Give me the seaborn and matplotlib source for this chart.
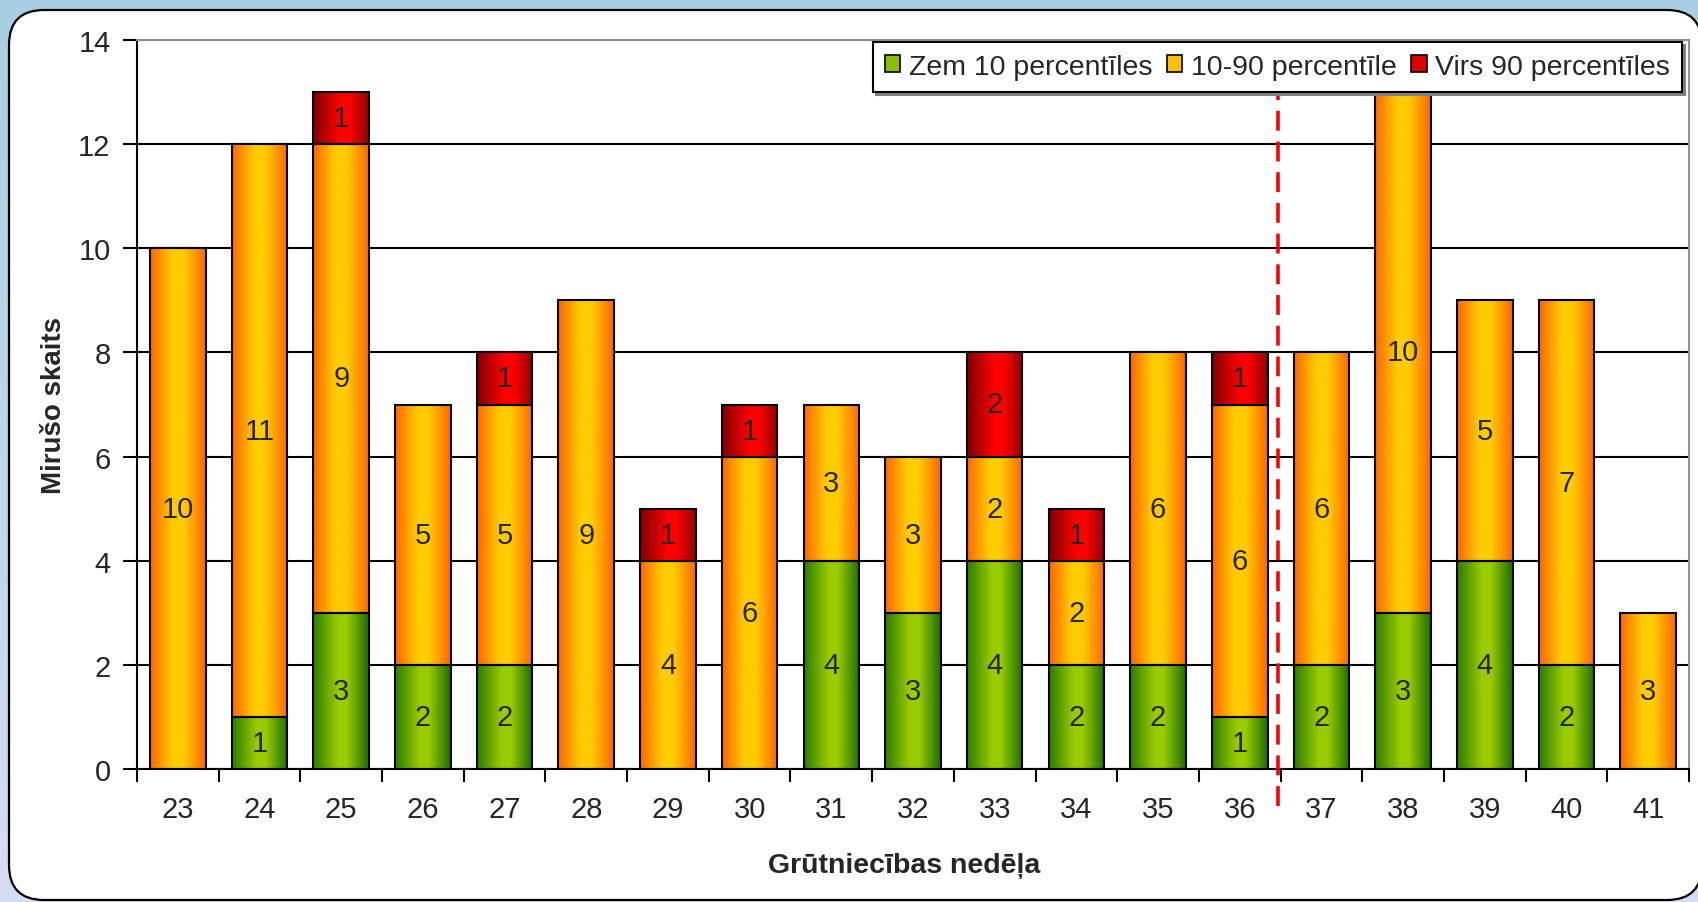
import matplotlib
matplotlib.use("Agg")
import matplotlib.pyplot as plt
import seaborn as sns
import numpy as np
from matplotlib.colors import LinearSegmentedColormap
from matplotlib.patches import FancyBboxPatch, Patch

# Data
weeks = [str(w) for w in range(23, 42)]
below_10 = [0, 1, 3, 2, 2, 0, 0, 0, 4, 3, 4, 2, 2, 1, 2, 3, 4, 2, 0]
mid_10_90 = [10, 11, 9, 5, 5, 9, 4, 6, 3, 3, 2, 2, 6, 6, 6, 10, 5, 7, 3]
above_90 = [0, 0, 1, 0, 1, 0, 1, 1, 0, 0, 2, 1, 0, 1, 0, 0, 0, 0, 0]
series_names = ["Zem 10 percentīles", "10-90 percentīle", "Virs 90 percentīles"]

sns.set_style("white")
plt.rcParams["font.family"] = ["Liberation Sans", "DejaVu Sans"]

green = LinearSegmentedColormap.from_list(
    "g", [(0, "#2E7D00"), (0.45, "#99CC00"), (0.6, "#99CC00"), (1, "#1E6E00")])
orange = LinearSegmentedColormap.from_list(
    "o", [(0, "#FF6600"), (0.4, "#FFCC00"), (0.6, "#FFCC00"), (1, "#FF6600")])
red = LinearSegmentedColormap.from_list(
    "r", [(0, "#800000"), (0.5, "#FF0000"), (0.65, "#FF0000"), (1, "#900000")])
cmaps = [green, orange, red]
legend_colors = ["#88C000", "#FFC000", "#E00000"]

W, H = 1698, 903
fig = plt.figure(figsize=(W / 100, H / 100), dpi=100)

# light blue backdrop + white rounded panel
bg = fig.add_axes([0, 0, 1, 1], zorder=0)
bg_cmap = LinearSegmentedColormap.from_list("bg", ["#A7CEE2", "#D4DDF3"])
bg.imshow(np.linspace(0, 1, 256).reshape(-1, 1), extent=[0, W, H, 0],
          aspect="auto", cmap=bg_cmap)
bg.add_patch(FancyBboxPatch((9, 11), 1693, 890,
                            boxstyle="round,pad=0,rounding_size=35",
                            fc="white", ec="black", lw=1.6))
bg.set_xlim(0, W)
bg.set_ylim(H, 0)
bg.axis("off")

ax = fig.add_axes([137 / W, 1 - 770 / H, (1689 - 137) / W, (770 - 41) / H], zorder=1)
ax.set_facecolor("white")

series = [below_10, mid_10_90, above_90]
bottom = np.zeros(len(weeks))
for vals in series:
    sns.barplot(x=weeks, y=vals, bottom=bottom, order=weeks, width=0.68,
                color="white", saturation=1, errorbar=None, ax=ax)
    bottom = bottom + np.array(vals)

# gradient fills inside each bar segment
for cont, cmap, vals in zip(ax.containers, cmaps, series):
    for rect, v in zip(cont.patches, vals):
        if v == 0:
            rect.set_visible(False)
            continue
        x, y = rect.get_x(), rect.get_y()
        w, h = rect.get_width(), rect.get_height()
        ax.imshow(np.linspace(0, 1, 200).reshape(1, -1), cmap=cmap,
                  extent=[x, x + w, y, y + h], aspect="auto", zorder=1.5,
                  interpolation="bilinear")
        rect.set_facecolor("none")
        rect.set_edgecolor("black")
        rect.set_linewidth(1.5)
        rect.set_zorder(2)
    ax.bar_label(cont, labels=[str(v) if v else "" for v in vals],
                 label_type="center", fontsize=21, zorder=3)

# dashed separator between weeks 36 and 37
ax.plot([13.47, 13.47], [-0.71, 13.2], color="#FF0000", lw=2.6,
        dashes=(5.5, 3), clip_on=False, zorder=4)

ax.set_xlim(-0.5, 18.5)
ax.set_ylim(0, 14)
ax.set_yticks(range(0, 15, 2))
ax.set_xticks(np.arange(-0.5, 19, 1), minor=True)
ax.tick_params(which="both", bottom=True, left=True)
ax.tick_params(axis="x", which="major", length=0, pad=19, labelsize=21)
ax.tick_params(axis="x", which="minor", length=9, width=1.5, direction="out", color="black")
ax.tick_params(axis="y", length=10, width=1.5, direction="out", pad=9,
               labelsize=21, color="black")

ax.yaxis.grid(True, color="black", lw=1.5)
ax.xaxis.grid(False)
ax.set_axisbelow(True)
for s in ["left", "bottom"]:
    ax.spines[s].set_color("black")
    ax.spines[s].set_linewidth(1.5)
for s in ["top", "right"]:
    ax.spines[s].set_color("#909090")
    ax.spines[s].set_linewidth(1.5)

ax.set_xlabel("Grūtniecības nedēļa", fontsize=20.5, fontweight="bold")
ax.set_ylabel("Mirušo skaits", fontsize=20, fontweight="bold")
ax.xaxis.set_label_coords(0.494, -0.1317)
ax.yaxis.set_label_coords(-0.0535, 0.5)
ax.xaxis.label.set_va("center")
ax.yaxis.label.set_va("center")

handles = [Patch(facecolor=c, edgecolor="black", lw=1.2) for c in legend_colors]
leg = ax.legend(handles, series_names, loc="upper right",
                bbox_to_anchor=(1682 / W, 1 - 43 / H), bbox_transform=fig.transFigure,
                ncol=3, fontsize=20.5, frameon=True, fancybox=False,
                handlelength=0.55, handleheight=0.55, handletextpad=0.3,
                columnspacing=0.5, borderpad=0.42, borderaxespad=0,
                shadow={"color": "#808080", "alpha": 1})
leg.get_frame().set_edgecolor("black")
leg.get_frame().set_linewidth(1.5)
leg.set_zorder(5)

fig.savefig("out.png", dpi=100)
